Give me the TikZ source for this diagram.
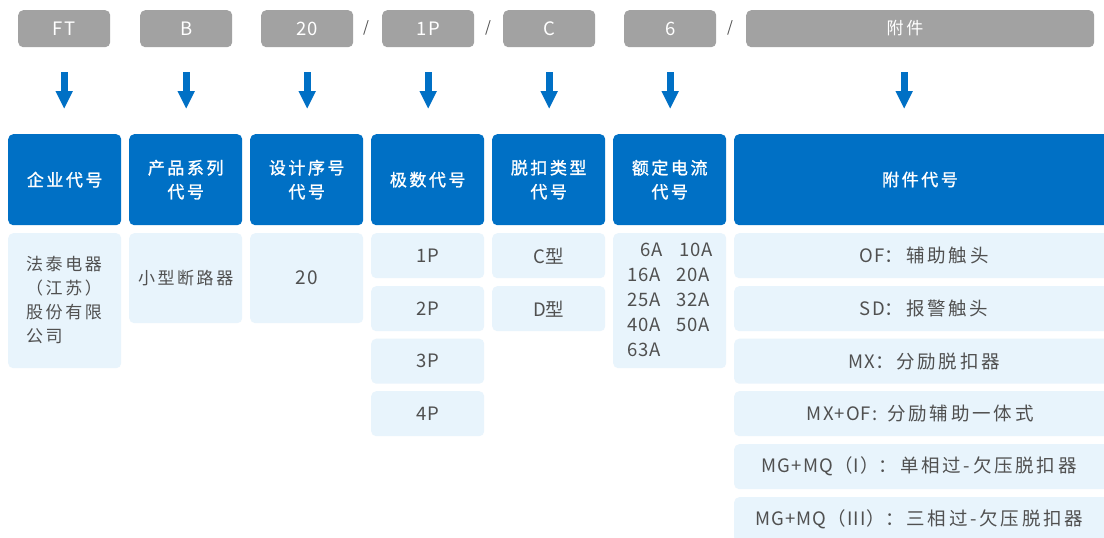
\documentclass[tikz,border=0pt]{standalone}
\usepackage{fontspec}
\setmainfont{Noto Sans CJK SC}[LetterSpace=6]
\newfontfamily\cjsp{Noto Sans CJK SC}[LetterSpace=15]
\newfontfamily\hdfont{Noto Sans CJK SC}[LetterSpace=15, FakeBold=1.3]
\newcommand\zh[1]{{\cjsp #1}}
\usetikzlibrary{arrows.meta}
\definecolor{hblue}{HTML}{0070C5}
\definecolor{lblue}{HTML}{E8F4FC}
\definecolor{tgrey}{HTML}{A2A2A2}
\definecolor{txt}{HTML}{505050}
\tikzset{
 topbox/.style={fill=tgrey, rounded corners=5pt, minimum width=92pt, minimum height=37pt, text=white, font=\fontsize{18.5}{20}\selectfont, inner sep=0pt, anchor=north west},
 hbox/.style={fill=hblue, rounded corners=5pt, minimum width=113pt, minimum height=91pt, text=white, font=\fontsize{17}{24}\selectfont\hdfont, align=center, inner sep=0pt, anchor=north west},
 cbox/.style={fill=lblue, rounded corners=5pt, minimum width=113pt, text=txt, font=\fontsize{18.5}{24.5}\selectfont, align=center, inner sep=0pt, anchor=north west},
 sbox/.style={cbox, minimum height=45pt},
 slash/.style={text=txt, font=\fontsize{15}{18}\selectfont, inner sep=0pt},
 atext/.style={text=txt, font=\fontsize{18.5}{20}\selectfont, inner sep=0pt},
 arr/.style={hblue, line width=7pt, -{Triangle[width=16pt,length=18pt]}, shorten <=25pt, shorten >=25pt}
}
\begin{document}
\begin{tikzpicture}[x=1pt,y=-1pt]
\clip (0,0) rectangle (1104,538);
\fill[white] (0,0) rectangle (1104,538);
% top code boxes
\node[topbox] (t1) at (18,10) {FT};
\node[topbox] (t2) at (140,10) {B};
\node[topbox] (t3) at (261,10) {20};
\node[topbox] (t4) at (382,10) {1P};
\node[topbox] (t5) at (503,10) {C};
\node[topbox] (t6) at (624,10) {6};
\node[topbox, minimum width=348pt] (t7) at (746,10) {};
\node[text=white, font=\fontsize{17}{20}\selectfont\cjsp, inner sep=0pt] (t7t) at (905,28.5) {附件};
\node[slash] (s1) at (366,28) {/};
\node[slash] (s2) at (488,28) {/};
\node[slash] (s3) at (730,28) {/};
% headers
\node[hbox] (h1) at (8,134) {企业代号};
\node[hbox] (h2) at (129,134) {产品系列\\代号};
\node[hbox] (h3) at (250,134) {设计序号\\代号};
\node[hbox] (h4) at (371,134) {极数代号};
\node[hbox] (h5) at (492,134) {脱扣类型\\代号};
\node[hbox] (h6) at (613,134) {额定电流\\代号};
\node[hbox, minimum width=380pt] (h7) at (734,134) {};
\node[text=white, font=\fontsize{17}{24}\selectfont\hdfont, inner sep=0pt] (h7t) at (920,179.5) {附件代号};
% arrows
\foreach \i in {1,...,6} {\draw[arr] (t\i.south) -- (h\i.north -| t\i.south);}
\draw[arr] ([xshift=-16pt]t7.south) -- ([xshift=-16pt]t7.south |- h7.north);
% column 1-3
\node[cbox, minimum height=135pt] (c1) at (8,233) {};
\node[text=txt, font=\fontsize{17}{24.3}\selectfont\cjsp, align=left, inner sep=0pt, anchor=west] (c1t) at (26,300) {法泰电器\\（江苏）\\股份有限\\公司};
\node[cbox, minimum height=90pt, font=\fontsize{17}{24}\selectfont\cjsp] (c2) at (129,233) {小型断路器};
\node[cbox, minimum height=90pt, font=\fontsize{19}{24}\selectfont] (c3) at (250,233) {20};
% column 4
\node[sbox] (p1) at (371,233) {1P};
\node[sbox] (p2) at (371,286) {2P};
\node[sbox] (p3) at (371,338.5) {3P};
\node[sbox] (p4) at (371,391) {4P};
% column 5
\node[sbox] (k1) at (492,233) {C\zh{型}};
\node[sbox] (k2) at (492,286) {D\zh{型}};
% column 6
\node[cbox, minimum height=135pt] (r1) at (613,233) {};
\node[text=txt, font=\fontsize{18.5}{25}\selectfont, align=left, inner sep=0pt, anchor=west] (r1t) at (627,300) {\hbox to 52pt{\hspace{13pt}6A\hfill}10A\\\hbox to 49pt{16A\hfill}20A\\\hbox to 49pt{25A\hfill}32A\\\hbox to 49pt{40A\hfill}50A\\63A};
% column 7
\node[sbox, minimum width=380pt] (a1) at (734,233) {};
\node[sbox, minimum width=380pt] (a2) at (734,286) {};
\node[sbox, minimum width=380pt] (a3) at (734,338.5) {};
\node[sbox, minimum width=380pt] (a4) at (734,391) {};
\node[sbox, minimum width=380pt] (a5) at (734,444) {};
\node[sbox, minimum width=380pt] (a6) at (734,497) {};
\node[atext] (a1t) at (a1.center) {OF\zh{：辅助触头}};
\node[atext] (a2t) at (a2.center) {SD\zh{：报警触头}};
\node[atext] (a3t) at (a3.center) {MX\zh{：分励脱扣器}};
\node[atext] (a4t) at ([xshift=-4pt]a4.center) {MX+OF:\hspace{10pt}\zh{分励辅助一体式}};
\node[atext] (a5t) at ([xshift=-5pt]a5.center) {MG+MQ（I）\zh{：单相过-欠压脱扣器}};
\node[atext] (a6t) at ([xshift=-5pt]a6.center) {MG+MQ（III）\zh{：三相过-欠压脱扣器}};
\end{tikzpicture}
\end{document}
